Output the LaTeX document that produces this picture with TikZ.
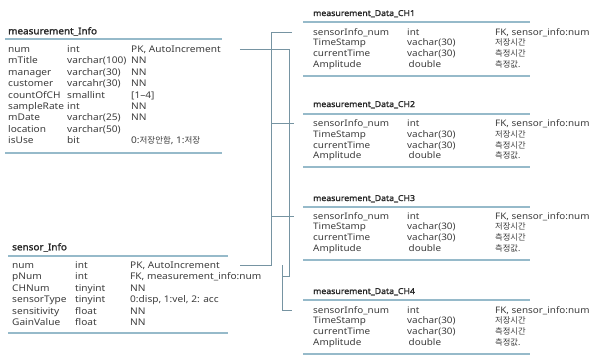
\documentclass[tikz,border=0pt]{standalone}
\usepackage{fontspec}
\setmainfont{Noto Sans}[FakeStretch=1.1]
\newfontfamily\boldsans{Noto Sans}[FakeStretch=1.08, FakeBold=1.6]
\newfontfamily\kr{Noto Sans CJK KR}[Scale=0.92]

\definecolor{rulecol}{RGB}{150,186,202}
\definecolor{linkcol}{RGB}{118,148,162}
\definecolor{txtcol}{RGB}{60,60,60}

% column widths of the three kinds of table
\newcommand{\mcol}[2]{\makebox[59pt][l]{#1}\makebox[64pt][l]{#2}}
\newcommand{\scol}[2]{\makebox[63pt][l]{#1}\makebox[55pt][l]{#2}}
\newcommand{\ccol}[2]{\makebox[94pt][l]{#1}\makebox[88pt][l]{#2}}

\tikzset{
  tbltitle/.style={anchor=west, inner sep=0pt, text height=6.5pt, text depth=0pt,
    font=\boldsans\fontsize{9.2}{10}\selectfont, text=black!85},
  tblrow/.style={anchor=west, inner sep=0pt, text height=6.8pt, text depth=0pt,
    font=\fontsize{9.2}{10}\selectfont, text=txtcol},
  chtitle/.style={tbltitle, text height=6pt, font=\boldsans\fontsize{8.1}{9}\selectfont},
  chrow/.style={tblrow, text height=6.4pt, font=\fontsize{9}{9}\selectfont},
  rule/.style={rulecol, line width=1.2pt},
  link/.style={linkcol, line width=0.6pt}
}

\begin{document}
\begin{tikzpicture}[x=1pt, y=-1pt]
  \useasboundingbox (0,0) rectangle (596,356);

  % measurement_Info
  \node[tbltitle] (minfo) at (8,31) {measurement\_Info};
  \draw[rule] (5,39) -- (222,39);
  \node[tblrow] (mnum) at (8,49) {\mcol{num}{int}PK, AutoIncrement};
  \node[tblrow] (mtitle) at (8,60.4) {\mcol{mTitle}{varchar(100)}NN};
  \node[tblrow] (mmanager) at (8,71.8) {\mcol{manager}{varchar(30)}NN};
  \node[tblrow] (mcustomer) at (8,83.2) {\mcol{customer}{varcahr(30)}NN};
  \node[tblrow] (mcount) at (8,94.6) {\mcol{countOfCH}{smallint}[1--4]};
  \node[tblrow] (mrate) at (8,106) {\mcol{sampleRate}{int}NN};
  \node[tblrow] (mdate) at (8,117.4) {\mcol{mDate}{varchar(25)}NN};
  \node[tblrow] (mlocation) at (8,128.8) {\mcol{location}{varchar(50)}};
  \node[tblrow] (muse) at (8,140.2) {\mcol{isUse}{bit}0:{\kr 저장안함}, 1:{\kr 저장}};
  \draw[rule] (5,153) -- (222,153);

  % sensor_Info
  \node[tbltitle] (sinfo) at (12,247) {sensor\_Info};
  \draw[rule] (8,256) -- (228,256);
  \node[tblrow] (snum) at (12,265) {\scol{num}{int}PK, AutoIncrement};
  \node[tblrow] (spnum) at (12,276.4) {\scol{pNum}{int}FK, measurement\_info:num};
  \node[tblrow] (schnum) at (12,287.8) {\scol{CHNum}{tinyint}NN};
  \node[tblrow] (stype) at (12,299.2) {\scol{sensorType}{tinyint}0:disp, 1:vel, 2: acc};
  \node[tblrow] (ssens) at (12,310.6) {\scol{sensitivity}{float}NN};
  \node[tblrow] (sgain) at (12,322) {\scol{GainValue}{float}NN};
  \draw[rule] (8,333) -- (228,333);

  % measurement_Data_CH1
  \node[chtitle] (c1) at (313,13) {measurement\_Data\_CH1};
  \draw[rule] (303,22) -- (530,22);
  \node[chrow] (c1num) at (313,32) {\ccol{sensorInfo\_num}{int}FK, sensor\_info:num};
  \node[chrow] (c1stamp) at (313,42.7) {\ccol{TimeStamp}{vachar(30)}{\kr 저장시간}};
  \node[chrow] (c1time) at (313,53.4) {\ccol{currentTime}{vachar(30)}{\kr 측정시간}};
  \node[chrow] (c1amp) at (313,64.1) {\ccol{Amplitude}{\,double}{\kr 측정값.}};
  \draw[rule] (303,76) -- (530,76);

  % measurement_Data_CH2
  \node[chtitle] (c2) at (313,104) {measurement\_Data\_CH2};
  \draw[rule] (303,114) -- (530,114);
  \node[chrow] (c2num) at (313,123.5) {\ccol{sensorInfo\_num}{int}FK, sensor\_info:num};
  \node[chrow] (c2stamp) at (313,134.2) {\ccol{TimeStamp}{vachar(30)}{\kr 저장시간}};
  \node[chrow] (c2time) at (313,144.9) {\ccol{currentTime}{vachar(30)}{\kr 측정시간}};
  \node[chrow] (c2amp) at (313,155.6) {\ccol{Amplitude}{\,double}{\kr 측정값.}};
  \draw[rule] (303,167) -- (530,167);

  % measurement_Data_CH3
  \node[chtitle] (c3) at (313,198) {measurement\_Data\_CH3};
  \draw[rule] (303,207) -- (530,207);
  \node[chrow] (c3num) at (313,216) {\ccol{sensorInfo\_num}{int}FK, sensor\_info:num};
  \node[chrow] (c3stamp) at (313,226.7) {\ccol{TimeStamp}{vachar(30)}{\kr 저장시간}};
  \node[chrow] (c3time) at (313,237.4) {\ccol{currentTime}{vachar(30)}{\kr 측정시간}};
  \node[chrow] (c3amp) at (313,248.1) {\ccol{Amplitude}{\,double}{\kr 측정값.}};
  \draw[rule] (303,260) -- (530,260);

  % measurement_Data_CH4
  \node[chtitle] (c4) at (313,291) {measurement\_Data\_CH4};
  \draw[rule] (303,300) -- (530,300);
  \node[chrow] (c4num) at (313,310) {\ccol{sensorInfo\_num}{int}FK, sensor\_info:num};
  \node[chrow] (c4stamp) at (313,320.7) {\ccol{TimeStamp}{vachar(30)}{\kr 저장시간}};
  \node[chrow] (c4time) at (313,331.4) {\ccol{currentTime}{vachar(30)}{\kr 측정시간}};
  \node[chrow] (c4amp) at (313,342.1) {\ccol{Amplitude}{\,double}{\kr 측정값.}};
  \draw[rule] (303,354) -- (530,354);

  % key lines
  \coordinate (busA) at (271,0);
  \coordinate (busB) at (289,0);
  \coordinate (busC) at (282,0);
  \draw[link] ([xshift=-21pt]c1num.west) -| (busA |- snum.center) -- ([xshift=20pt]snum.east);
  \draw[link] (busA |- c2num.center) -- ([xshift=-19pt]c2num.west);
  \draw[link] (busA |- c3num.center) -- ([xshift=-19pt]c3num.west);
  \draw[link] ([xshift=19pt]mnum.east) -| (busB |- spnum.center) -- (busC |- spnum.center);
  \draw[link] (busC |- snum.center) |- ([xshift=-21pt]c4num.west);
\end{tikzpicture}
\end{document}
